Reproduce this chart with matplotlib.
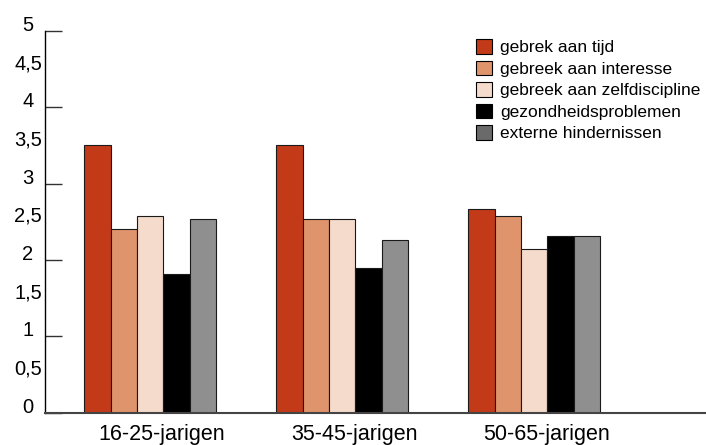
import numpy as np
import matplotlib
matplotlib.use('Agg')
import matplotlib.pyplot as plt
from matplotlib.patches import Patch
from matplotlib.ticker import MultipleLocator, FuncFormatter

plt.rcParams['font.family'] = ['Liberation Sans', 'DejaVu Sans']

# Scores per leeftijdsgroep
groepen = ['16-25-jarigen', '35-45-jarigen', '50-65-jarigen']
reden_labels = ['gebrek aan tijd', 'gebreek aan interesse', 'gebreek aan zelfdiscipline',
                'gezondheidsproblemen', 'externe hindernissen']
tijd = [3.51, 3.50, 2.67]
interesse = [2.40, 2.54, 2.57]
zelfdiscipline = [2.58, 2.54, 2.14]
gezondheid = [1.81, 1.90, 2.31]
extern = [2.53, 2.26, 2.31]

series = [tijd, interesse, zelfdiscipline, gezondheid, extern]
kleuren = ['#C23A18', '#E0946C', '#F5DBCB', '#000000', '#8F8F8F']
legenda_kleuren = ['#C23A18', '#E0946C', '#F5DBCB', '#000000', '#6A6A6A']

fig = plt.figure(figsize=(7.06, 4.45), dpi=100)
ax = fig.add_axes([0.0637, 0.073, 0.9363, 0.8573])

x = np.arange(len(groepen))
breedte = 0.137
for i, (waarden, kleur) in enumerate(zip(series, kleuren)):
    ax.bar(x + (i - 2) * breedte, waarden, width=breedte, color=kleur,
           edgecolor='#1a1a1a', linewidth=0.8, zorder=2)

ax.set_xlim(-0.548, 2.895)
ax.set_ylim(0, 5)

# y-as: labels per halve eenheid, streepjes alleen op hele getallen
ax.yaxis.remove_overlapping_locs = False
ax.yaxis.set_major_locator(MultipleLocator(0.5))
ax.yaxis.set_major_formatter(FuncFormatter(lambda v, p: f'{v:g}'.replace('.', ',')))
ax.yaxis.set_minor_locator(MultipleLocator(1))
ax.tick_params(axis='y', which='major', length=0, pad=12.2, labelsize=14.5)
ax.tick_params(axis='y', which='minor', length=12.2, width=1, direction='in', color='#333333')
plt.setp(ax.get_yticklabels(), ha='center', va='baseline')

ax.set_xticks(x + 0.062)
ax.set_xticklabels(groepen)
ax.tick_params(axis='x', length=0, pad=8.3, labelsize=15.5)

ax.spines['top'].set_visible(False)
ax.spines['right'].set_visible(False)
ax.spines['left'].set_color('black')
ax.spines['left'].set_linewidth(1)
ax.spines['bottom'].set_color('#444444')
ax.spines['bottom'].set_linewidth(1.5)

handles = [Patch(facecolor=c, edgecolor='black', linewidth=0.8) for c in legenda_kleuren]
ax.legend(handles, reden_labels, loc='upper left', bbox_to_anchor=(476 / 706, 1 - 39 / 445),
          bbox_transform=fig.transFigure, frameon=False, fontsize=12.5, borderpad=0,
          borderaxespad=0, handlelength=0.92, handleheight=0.92, handletextpad=0.45,
          labelspacing=0.3)

fig.savefig('out.png', dpi=100)
